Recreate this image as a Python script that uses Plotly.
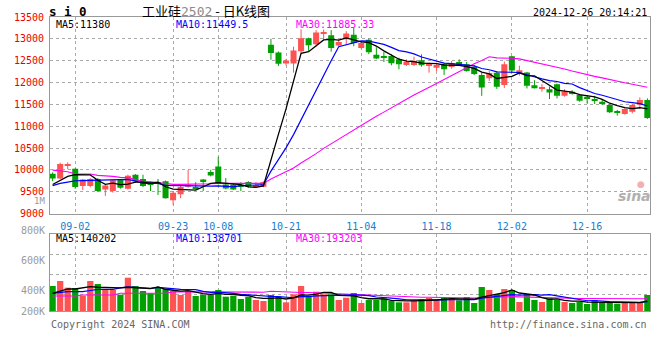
import plotly.graph_objects as go

# ---------------- data ----------------
dates = ["08-28","08-29","08-30","09-02","09-03","09-04","09-05","09-06","09-09","09-10",
         "09-11","09-12","09-13","09-18","09-19","09-20","09-23","09-24","09-25","09-26",
         "09-27","09-30","10-08","10-09","10-10","10-11","10-14","10-15","10-16","10-17",
         "10-18","10-21","10-22","10-23","10-24","10-25","10-28","10-29","10-30","10-31",
         "11-01","11-04","11-05","11-06","11-07","11-08","11-11","11-12","11-13","11-14",
         "11-15","11-18","11-19","11-20","11-21","11-22","11-25","11-26","11-27","11-28",
         "11-29","12-02","12-03","12-04","12-05","12-06","12-09","12-10","12-11","12-12",
         "12-13","12-16","12-17","12-18","12-19","12-20","12-23","12-24","12-25","12-26"]

tick_dates = ["09-02","09-23","10-08","10-21","11-04","11-18","12-02","12-16"]

opens = [9910,9799,10100,10022,9627,9627,9791,9552,9515,9776,
         9567,9888,9791,9702,9702,9739,9306,9440,9612,9590,
         9776,9948,10075,9664,9664,9642,9724,9635,9612,12867,
         12688,12436,12436,12718,13012,12875,13120,13080,12850,12990,
         13095,12790,12980,12638,12595,12605,12530,12401,12401,12508,
         12393,12340,12416,12355,12470,12416,12360,12170,12100,12226,
         11945,12600,12207,12227,11939,11860,11848,11962,11697,11788,
         11712,11674,11621,11560,11484,11340,11280,11333,11492,11598]
highs = [9940,10164,10172,10037,9791,9810,9813,9664,9776,9790,
         9888,9903,9888,9739,9791,9754,9515,9642,10000,9716,
         9791,10000,10298,9813,9680,9716,9739,9716,9739,13000,
         12710,12542,12820,13220,13026,13198,13210,13200,12985,13176,
         13265,12940,13005,12810,12700,12645,12569,12530,12592,12645,
         12454,12454,12454,12492,12530,12470,12401,12220,12264,12256,
         12480,12606,12386,12242,12053,11962,11909,11977,11848,11826,
         11735,11697,11697,11621,11507,11371,11409,11507,11659,11636]
lows = [9740,9790,10015,9567,9537,9600,9493,9403,9478,9567,
        9552,9702,9605,9515,9425,9343,9201,9351,9590,9552,
        9515,9851,9664,9552,9537,9515,9590,9612,9600,12520,
        12380,12390,12226,12665,12726,12821,12990,12706,12831,12870,
        12830,12770,12650,12535,12468,12393,12302,12378,12378,12363,
        12225,12264,12172,12317,12378,12248,12172,11695,12036,11854,
        11876,12226,12158,11864,11864,11788,11621,11636,11674,11720,
        11560,11522,11507,11484,11302,11242,11265,11295,11393,11166]
closes = [9799,10134,10112,9605,9776,9791,9515,9642,9761,9590,
          9866,9739,9627,9664,9680,9351,9478,9605,9664,9575,
          9739,9873,9687,9575,9552,9620,9612,9645,9724,12676,
          12428,12501,12733,13012,12851,13145,13132,12790,12930,13120,
          12905,12905,12695,12550,12565,12440,12416,12470,12492,12393,
          12416,12401,12302,12439,12416,12263,12195,11884,12218,11903,
          12416,12275,12280,11924,11871,11868,11773,11697,11795,11757,
          11583,11636,11583,11507,11318,11318,11393,11484,11598,11189]
volumes = [400000,480000,373000,368000,245000,480000,432000,336000,336000,261000,
           533000,400000,320000,283000,384000,352000,320000,256000,320000,240000,
           261000,256000,336000,229000,245000,192000,229000,176000,160000,256000,
           229000,139000,267000,400000,240000,309000,267000,267000,176000,213000,
           288000,128000,176000,176000,203000,160000,139000,139000,171000,192000,
           208000,171000,208000,208000,171000,224000,128000,384000,336000,272000,
           352000,336000,144000,272000,176000,144000,203000,176000,144000,128000,
           144000,112000,171000,144000,139000,117000,144000,128000,144000,256000]

# moving-average values at the left edge (window starts before the chart)
ma5_head = [9664, 9761, 9851, 9888]
ma10_head = [9640, 9690, 9720, 9750, 9755, 9760, 9760, 9762, 9765]
ma30_head = [9993, 9970, 9955, 9910, 9910, 9903, 9873, 9866, 9851, 9828,
             9821, 9776, 9739, 9724, 9709, 9679, 9668, 9668, 9668, 9668,
             9668, 9680, 9690, 9690, 9690, 9690, 9690, 9690, 9690]
vma5_head = [283000, 320000, 352000, 352000]
vma10_head = [283000, 296000, 309000, 309000, 309000, 328000, 347000, 347000, 347000]
vma30_head = [240000, 240000, 240000, 240000, 256000, 256000, 256000, 256000, 256000,
              283000, 283000, 283000, 283000, 283000, 283000, 283000, 309000, 309000,
              309000, 309000, 309000, 309000, 309000, 309000, 309000, 301000, 301000,
              301000, 301000]

price_ticks = [9000, 9500, 10000, 10500, 11000, 11500, 12000, 12500, 13000, 13500]
vol_labels = ["800K", "600K", "400K", "200K"]

ma_text = ["MA5:11380", "MA10:11449.5", "MA30:11885.33"]
vma_text = ["MA5:140202", "MA10:138701", "MA30:193203"]
symbol = "s i 0"
stamp = "2024-12-26 20:14:21"

# ---------------- helpers ----------------
RED = "#ff5252"
GREEN = "#00a000"
MA_COLORS = ["#000000", "#0000ff", "#ff00ff"]
MONO = "DejaVu Sans Mono"


def rolling(vals, n, head):
    out = []
    for i in range(len(vals)):
        if i >= n - 1:
            out.append(sum(vals[i - n + 1:i + 1]) / n)
        else:
            out.append(head[i])
    return out


# pixel -> paper mapping for text placement (plot area x 50..650, y 17..311)
L, R, T, B = 50, 10, 17, 49
W, H = 660, 360
PW, PH = W - L - R, H - T - B


def px(xp, yp):
    return (xp - L) / PW, (H - B - yp) / PH


up = [c >= o for o, c in zip(opens, closes)]
colors = [RED if u else GREEN for u in up]

MIN_BODY = 22
body_base, body_h = [], []
for o, c in zip(opens, closes):
    lo, hi = min(o, c), max(o, c)
    if hi - lo < MIN_BODY:
        mid = (hi + lo) / 2
        lo, hi = mid - MIN_BODY / 2, mid + MIN_BODY / 2
    body_base.append(lo)
    body_h.append(hi - lo)

fig = go.Figure()

# wicks
for flag, col in [(True, RED), (False, GREEN)]:
    wx, wy = [], []
    for d, h, l, u in zip(dates, highs, lows, up):
        if u == flag:
            wx += [d, d, None]
            wy += [l, h, None]
    fig.add_trace(go.Scatter(x=wx, y=wy, mode="lines", line=dict(color=col, width=1),
                             hoverinfo="skip", xaxis="x", yaxis="y"))

# bodies
fig.add_trace(go.Bar(x=dates, y=body_h, base=body_base, width=0.8,
                     marker=dict(color=colors, line=dict(width=0)),
                     xaxis="x", yaxis="y"))

# price MAs
for n, head, col, w in [(30, ma30_head, MA_COLORS[2], 1.1), (10, ma10_head, MA_COLORS[1], 1.2),
                        (5, ma5_head, MA_COLORS[0], 1.3)]:
    fig.add_trace(go.Scatter(x=dates, y=rolling(closes, n, head), mode="lines",
                             line=dict(color=col, width=w), xaxis="x", yaxis="y"))

# volume
fig.add_trace(go.Bar(x=dates, y=volumes, width=0.83,
                     marker=dict(color=colors, line=dict(width=0)),
                     xaxis="x2", yaxis="y2"))
for n, head, col, w in [(30, vma30_head, MA_COLORS[2], 1.1), (10, vma10_head, MA_COLORS[1], 1.2),
                        (5, vma5_head, MA_COLORS[0], 1.3)]:
    fig.add_trace(go.Scatter(x=dates, y=rolling(volumes, n, head), mode="lines",
                             line=dict(color=col, width=w), xaxis="x2", yaxis="y2"))

# volume axis scale: 16000 lots per pixel, zero at bar bottoms
VOL_PX = 16000
vol_panel_px = 311 - 234.3
vol_top = vol_panel_px * VOL_PX
vol_grid = [vol_top - k * 20 * VOL_PX for k in (1, 2, 3)]

price_dom_bottom = (H - B - 213.5) / PH
vol_dom_top = (H - B - 234.3) / PH

grid = dict(showgrid=True, gridcolor="#aaaaaa", griddash="dot", gridwidth=1)
border = dict(showline=True, mirror=True, linecolor="#999999", linewidth=1, zeroline=False)
cat = dict(type="category", categoryorder="array", categoryarray=dates)

fig.update_layout(
    width=W, height=H,
    margin=dict(l=L, r=R, t=T, b=B, pad=0),
    paper_bgcolor="white", plot_bgcolor="white",
    showlegend=False, barmode="overlay",
    xaxis=dict(domain=[0, 1], anchor="y", range=[-0.35, 79.35],
               tickmode="array", tickvals=tick_dates, ticktext=tick_dates, tickangle=0,
               tickfont=dict(family=MONO, size=10, color="#1480d0"),
               ticks="outside", ticklen=3, tickcolor="rgba(0,0,0,0)",
               **cat, **grid, **border),
    yaxis=dict(domain=[price_dom_bottom, 1], anchor="x", range=[9000, 13500],
               tickmode="array", tickvals=price_ticks, ticktext=[str(v) for v in price_ticks],
               tickfont=dict(family=MONO, size=10, color="#ee0000"),
               ticks="outside", ticklen=3, tickcolor="rgba(0,0,0,0)",
               **grid, **border),
    xaxis2=dict(domain=[0, 1], anchor="y2", matches="x",
                tickmode="array", tickvals=tick_dates, showticklabels=False,
                **cat, **grid, **border),
    yaxis2=dict(domain=[0, vol_dom_top], anchor="x2", range=[0, vol_top],
                tickmode="array", tickvals=vol_grid, showticklabels=False,
                **grid, **border),
)

ann = []


def text(xp, yp, s, color="#000", size=10, xanchor="left", family=MONO):
    x, y = px(xp, yp)
    ann.append(dict(x=x, y=y, xref="paper", yref="paper", text=s, showarrow=False,
                    xanchor=xanchor, yanchor="middle",
                    font=dict(family=family, size=size, color=color)))


text(47, 11.5, "<b>" + symbol + "</b>", size=12.5)
text(206, 11, '工业硅<span style="color:#8c8c8c;font-family:DejaVu Sans Mono">2502</span> - 日K线图',
     size=13, xanchor="center", family="Noto Sans CJK SC")
text(649, 12, stamp, size=10, xanchor="right")

for s, xp, col in zip(ma_text, [54, 174, 294], MA_COLORS):
    text(xp, 24, s, color=col)
for s, xp, col in zip(vma_text, [54, 174, 294], MA_COLORS):
    text(xp, 238.5, s, color=col)

for s, yp in zip(vol_labels, [230, 260, 290.5, 311]):
    text(47, yp, s, color="#9a9a9a", xanchor="right")
text(47, 201, "1M", color="#9a9a9a", xanchor="right", size=9)

text(49, 324, "Copyright 2024 SINA.COM", color="#666666")
text(649, 324, "http://finance.sina.com.cn", color="#666666", xanchor="right")

# watermark
text(634, 196, "<b><i>sina</i></b>", color="#b0b0b0", size=14, xanchor="center", family="DejaVu Sans")
text(641, 184, "●", color="#f4b0b0", size=9, xanchor="center", family="DejaVu Sans")

fig.update_layout(annotations=ann)
fig.write_html("out.html")
